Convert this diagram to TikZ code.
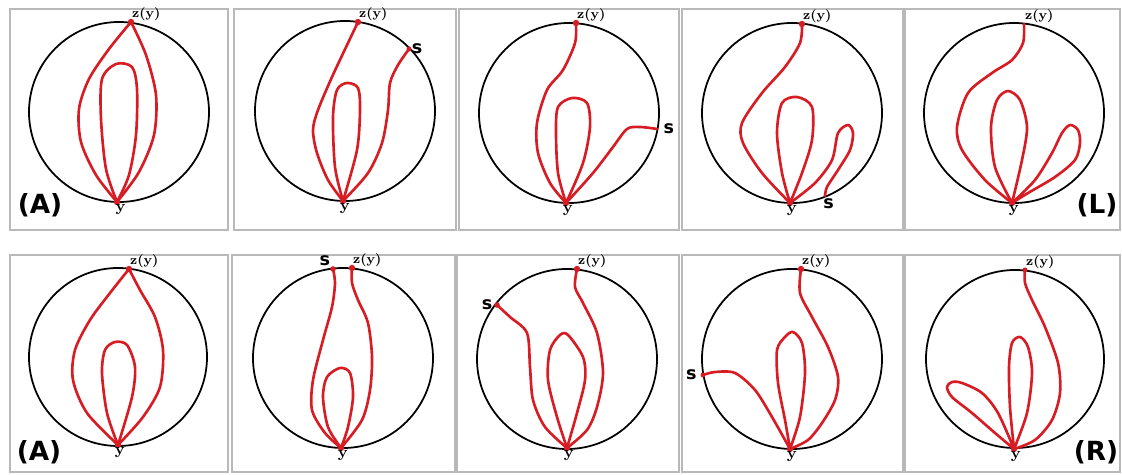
\documentclass[tikz,border=0pt]{standalone}
\usepackage{fontspec}
\newfontfamily\labelfont{DejaVu Sans}
\usepackage{tikz}
\definecolor{curvered}{RGB}{215,28,36}

\begin{document}
\begin{tikzpicture}[x=0.02cm, y=-0.02cm]
    % Define styles for the pieces
    \tikzstyle{panel_box} = [draw=gray!55, line width=0.7pt]
    \tikzstyle{ring} = [draw=black, line width=1pt]
    \tikzstyle{red_path} = [
        draw=curvered, line width=1.5pt, line join=round, line cap=round
    ]
    \tikzstyle{red_dot} = [fill=curvered]
    \tikzstyle{lbl_z} = [font=\fontsize{7.5}{7.5}\selectfont\bfseries, inner sep=0.5pt]
    \tikzstyle{lbl_y} = [font=\fontsize{9}{9}\selectfont\bfseries, inner sep=1pt]
    \tikzstyle{lbl_s} = [
        font=\labelfont\fontsize{10}{10}\selectfont\bfseries, inner sep=1.5pt
    ]
    \tikzstyle{lbl_case} = [
        font=\labelfont\fontsize{15}{15}\selectfont\bfseries, inner sep=0
    ]

    \useasboundingbox (0,0) rectangle (1122,475);

    % Frames, top row
    \draw[panel_box] (10,9) rectangle (228,230);
    \draw[panel_box] (234,9) rectangle (456,230);
    \draw[panel_box] (459,9) rectangle (679,230);
    \draw[panel_box] (682,9) rectangle (903,230);
    \draw[panel_box] (905,9) rectangle (1120,230);

    % Frames, bottom row
    \draw[panel_box] (10,255) rectangle (228,472);
    \draw[panel_box] (232,255) rectangle (455,472);
    \draw[panel_box] (457,255) rectangle (679,472);
    \draw[panel_box] (682,255) rectangle (903,472);
    \draw[panel_box] (905,255) rectangle (1120,472);

    % Panel 1
    \begin{scope}[shift={(119,112)}]
        \draw[ring] (0,0) circle (90);
        \coordinate (z1) at (12,-90);
        \coordinate (y1) at (-2,90);
        \draw[red_path] plot[smooth] coordinates {
            (z1) (-10,-63) (-30,-33) (-40,-3) (-38,30) (-23,63) (y1)};
        \draw[red_path] plot[smooth] coordinates {
            (z1) (27,-57) (37,-17) (35,23) (20,60) (y1)};
        \draw[red_path] plot[smooth] coordinates {
            (y1) (-13,57) (-18,7) (-17,-33) (-3,-48) (13,-45) (18,-23) (17,23)
            (10,63) (y1)};
        \fill[red_dot] (z1) circle (3.2) (y1) circle (3.2);
        \node[lbl_z, anchor=south west] (zl1) at (z1) {z(y)};
        \node[lbl_y, anchor=north, xshift=2pt] (yl1) at (y1) {y};
    \end{scope}

    % Panel 2
    \begin{scope}[shift={(345,111)}]
        \draw[ring] (0,0) circle (90);
        \coordinate (z2) at (13,-89);
        \coordinate (s2) at (64,-62);
        \coordinate (y2) at (-2,90);
        \draw[red_path] plot[smooth] coordinates {
            (z2) (3,-68) (-13,-34) (-27,-1) (-32,19) (-28,42) (-17,69) (y2)};
        \draw[red_path] plot[smooth] coordinates {
            (y2) (-10,56) (-12,6) (-8,-21) (2,-28) (13,-23) (15,-1) (12,39) (y2)};
        \draw[red_path] plot[smooth] coordinates {
            (s2) (53,-46) (45,-28) (43,-1) (37,32) (23,62) (y2)};
        \fill[red_dot] (z2) circle (3.2) (y2) circle (3.2) (s2) circle (2.5);
        \node[lbl_z, anchor=south west] (zl2) at (z2) {z(y)};
        \node[lbl_y, anchor=north, xshift=1pt] (yl2) at (y2) {y};
        \node[lbl_s, anchor=west] (sl2) at (s2) {s};
    \end{scope}

    % Panel 3
    \begin{scope}[shift={(569,113)}]
        \draw[ring] (0,0) circle (90);
        \coordinate (z3) at (7,-90);
        \coordinate (s3) at (88,16);
        \coordinate (y3) at (-3,90);
        \draw[red_path] plot[smooth] coordinates {
            (z3) (6,-70) (-6,-43) (-22,-23) (-32,10) (-31,40) (-19,70) (y3)};
        \draw[red_path] plot[smooth] coordinates {
            (y3) (-11,60) (-13,20) (-11,-6) (3,-15) (18,-10) (21,14) (14,50) (y3)};
        \draw[red_path] plot[smooth] coordinates {
            (s3) (71,14) (58,16) (44,34) (24,60) (y3)};
        \fill[red_dot] (z3) circle (3.2) (y3) circle (3.2);
        \node[lbl_z, anchor=south west] (zl3) at (z3) {z(y)};
        \node[lbl_y, anchor=north, xshift=1pt] (yl3) at (y3) {y};
        \node[lbl_s, anchor=west, xshift=2pt] (sl3) at (s3) {s};
    \end{scope}

    % Panel 4
    \begin{scope}[shift={(792,113)}]
        \draw[ring] (0,0) circle (90);
        \coordinate (z4) at (10,-89);
        \coordinate (s4) at (33,83);
        \coordinate (y4) at (-2,90);
        \draw[red_path] plot[smooth] coordinates {
            (z4) (8,-70) (-7,-46) (-30,-20) (-50,10) (-49,30) (-30,60) (y4)};
        \draw[red_path] plot[smooth] coordinates {
            (y4) (-10,60) (-15,20) (-10,-10) (5,-16) (20,-6) (20,27) (10,60) (y4)};
        \draw[red_path] plot[smooth] coordinates {
            (y4) (23,70) (40,47) (46,20) (56,12) (61,20) (58,37) (46,57) (35,74)
            (s4)};
        \fill[red_dot] (z4) circle (3.2) (y4) circle (3.2);
        \node[lbl_z, anchor=south west] (zl4) at (z4) {z(y)};
        \node[lbl_y, anchor=north, xshift=1pt] (yl4) at (y4) {y};
        \node[lbl_s, anchor=north, xshift=2pt] (sl4) at (s4) {s};
    \end{scope}

    % Panel 5
    \begin{scope}[shift={(1014,113)}]
        \draw[ring] (0,0) circle (90);
        \coordinate (z5) at (10,-89);
        \coordinate (y5) at (-2,90);
        \draw[red_path] plot[smooth] coordinates {
            (z5) (9,-70) (-2,-53) (-22,-40) (-46,-20) (-57,14) (-52,37) (-29,67)
            (y5)};
        \draw[red_path] plot[smooth] coordinates {
            (y5) (-19,54) (-23,14) (-17,-13) (-6,-22) (6,-13) (13,14) (8,47) (y5)};
        \draw[red_path] plot[smooth] coordinates {
            (y5) (21,67) (38,40) (48,20) (56,12) (64,17) (66,30) (61,47) (41,64)
            (14,80) (y5)};
        \fill[red_dot] (y5) circle (3.2);
        \node[lbl_z, anchor=south west] (zl5) at (z5) {z(y)};
        \node[lbl_y, anchor=north, xshift=1pt] (yl5) at (y5) {y};
    \end{scope}

    % Panel 6
    \begin{scope}[shift={(118,357)}]
        \draw[ring] (0,0) circle (89);
        \coordinate (z6) at (11,-88);
        \coordinate (y6) at (0,88);
        \draw[red_path] plot[smooth] coordinates {
            (z6) (-8,-64) (-28,-37) (-43,-7) (-45,23) (-31,56) (y6)};
        \draw[red_path] plot[smooth] coordinates {
            (z6) (22,-67) (37,-40) (45,-7) (42,30) (25,60) (y6)};
        \draw[red_path] plot[smooth] coordinates {
            (y6) (-11,56) (-16,16) (-13,-7) (-3,-15) (9,-12) (17,10) (14,40) (y6)};
        \fill[red_dot] (z6) circle (3.2) (y6) circle (3.2);
        \node[lbl_z, anchor=south west] (zl6) at (z6) {z(y)};
        \node[lbl_y, anchor=north, xshift=1pt] (yl6) at (y6) {y};
    \end{scope}

    % Panel 7
    \begin{scope}[shift={(343,358)}]
        \draw[ring] (0,0) circle (90);
        \coordinate (s7) at (-10,-89);
        \coordinate (z7) at (9,-90);
        \coordinate (y7) at (-2,90);
        \draw[red_path] plot[smooth] coordinates {
            (s7) (-8,-75) (-11,-51) (-20,-18) (-30,22) (-31,52) (-18,75) (y7)};
        \draw[red_path] plot[smooth] coordinates {
            (z7) (9,-75) (15,-58) (25,-35) (29,-1) (27,32) (19,62) (y7)};
        \draw[red_path] plot[smooth] coordinates {
            (y7) (-15,69) (-20,39) (-16,19) (-3,10) (7,15) (10,39) (5,69) (y7)};
        \fill[red_dot] (z7) circle (3.2) (y7) circle (3.2) (s7) circle (2.8);
        \node[lbl_z, anchor=south west] (zl7) at (z7) {z(y)};
        \node[lbl_y, anchor=north, xshift=1pt] (yl7) at (y7) {y};
        \node[lbl_s, anchor=south east] (sl7) at (s7) {s};
    \end{scope}

    % Panel 8
    \begin{scope}[shift={(567,359)}]
        \draw[ring] (0,0) circle (90);
        \coordinate (z8) at (10,-90);
        \coordinate (s8) at (-70,-54);
        \coordinate (y8) at (0,89);
        \draw[red_path] plot[smooth] coordinates {
            (s8) (-57,-42) (-40,-26) (-37,8) (-34,41) (-22,68) (y8)};
        \draw[red_path] plot[smooth] coordinates {
            (z8) (8,-72) (16,-56) (30,-26) (36,14) (30,48) (20,71) (y8)};
        \draw[red_path] plot[smooth] coordinates {
            (y8) (-10,58) (-19,21) (-17,-9) (-7,-24) (1,-24) (16,-2) (18,21)
            (10,54) (y8)};
        \fill[red_dot] (z8) circle (3.2) (y8) circle (3.2) (s8) circle (2.8);
        \node[lbl_z, anchor=south west] (zl8) at (z8) {z(y)};
        \node[lbl_y, anchor=north, xshift=1pt] (yl8) at (y8) {y};
        \node[lbl_s, anchor=east, xshift=-1pt] (sl8) at (s8) {s};
    \end{scope}

    % Panel 9
    \begin{scope}[shift={(792,359)}]
        \draw[ring] (0,0) circle (90);
        \coordinate (z9) at (9,-90);
        \coordinate (s9) at (-89,16);
        \coordinate (y9) at (-2,90);
        \draw[red_path] plot[smooth] coordinates {
            (s9) (-77,13) (-57,14) (-37,31) (-20,58) (y9)};
        \draw[red_path] plot[smooth] coordinates {
            (z9) (8,-66) (20,-42) (36,-12) (46,18) (43,41) (30,64) (16,81) (y9)};
        \draw[red_path] plot[smooth] coordinates {
            (y9) (-7,61) (-14,24) (-15,-9) (-7,-22) (1,-27) (10,-16) (13,14)
            (8,58) (y9)};
        \fill[red_dot] (z9) circle (3.2) (y9) circle (3.2) (s9) circle (2.5);
        \node[lbl_z, anchor=south west] (zl9) at (z9) {z(y)};
        \node[lbl_y, anchor=north, xshift=1pt] (yl9) at (y9) {y};
        \node[lbl_s, anchor=east, xshift=-2pt] (sl9) at (s9) {s};
    \end{scope}

    % Panel 10
    \begin{scope}[shift={(1015,359)}]
        \draw[ring] (0,0) circle (89);
        \coordinate (z10) at (10,-89);
        \coordinate (y10) at (-1,90);
        \draw[red_path] plot[smooth] coordinates {
            (z10) (10,-76) (17,-59) (30,-32) (43,4) (45,34) (37,61) (20,81)
            (y10)};
        \draw[red_path] plot[smooth] coordinates {
            (y10) (-5,48) (-6,8) (-3,-16) (5,-22) (13,-12) (17,14) (12,54) (y10)};
        \draw[red_path] plot[smooth] coordinates {
            (y10) (-20,74) (-43,54) (-63,38) (-68,28) (-63,23) (-53,24) (-33,34)
            (-17,54) (y10)};
        \fill[red_dot] (z10) circle (2.5) (y10) circle (3.2);
        \node[lbl_z, anchor=south west] (zl10) at (z10) {z(y)};
        \node[lbl_y, anchor=north, xshift=1pt] (yl10) at (y10) {y};
    \end{scope}

    % Case labels
    \node[lbl_case] (case_a_top) at (40,205) {(A)};
    \node[lbl_case] (case_l) at (1097,205) {(L)};
    \node[lbl_case] (case_a_bot) at (39,452) {(A)};
    \node[lbl_case] (case_r) at (1096,452) {(R)};

\end{tikzpicture}
\end{document}
